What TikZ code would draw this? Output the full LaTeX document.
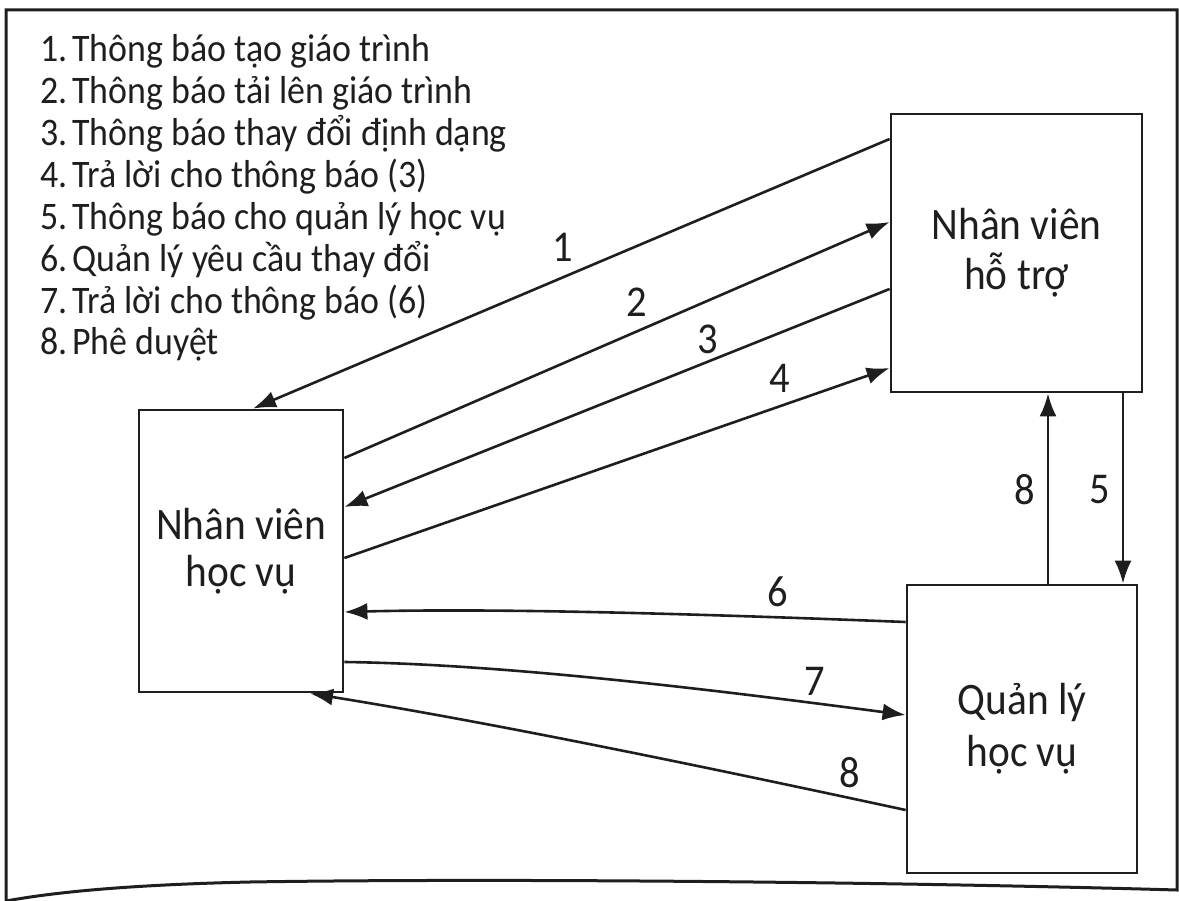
\documentclass[tikz,border=0pt]{standalone}
\usepackage{fontspec}
\setmainfont{Carlito}[FakeStretch=0.92]
\usetikzlibrary{arrows.meta,calc}
\definecolor{ink}{HTML}{1E1E1E}
\newcommand{\legitem}[2]{#1.\hspace{5pt}#2}
\begin{document}
\begin{tikzpicture}[x=1pt,y=-1pt,
  box/.style={draw=ink, line width=2.8pt, inner sep=0pt, align=center, text=ink},
  arr/.style={draw=ink, line width=2.6pt, -{Latex[length=23pt,width=17pt]}},
  lbl/.style={font=\fontsize{44}{44}\selectfont, text=ink, inner sep=0pt},
  leg/.style={font=\fontsize{39}{39}\selectfont, text=ink, anchor=base west, inner sep=0pt},
  frame/.style={draw=ink, line width=3pt}]
\useasboundingbox (0,0) rectangle (1179,901);
% frame
\draw[frame] (6,901) -- (6,10) -- (1177,10) -- (1177,890)
  .. controls (900,882) and (500,878) .. (250,882)
  .. controls (120,885) and (50,893) .. (6,901);
% legend
\node[leg] (leg1) at (40,62) {\legitem{1}{Thông báo tạo giáo trình}};
\node[leg] (leg2) at (40,103.85) {\legitem{2}{Thông báo tải lên giáo trình}};
\node[leg] (leg3) at (40,145.7) {\legitem{3}{Thông báo thay đổi định dạng}};
\node[leg] (leg4) at (40,187.55) {\legitem{4}{Trả lời cho thông báo (3)}};
\node[leg] (leg5) at (40,229.4) {\legitem{5}{Thông báo cho quản lý học vụ}};
\node[leg] (leg6) at (40,271.25) {\legitem{6}{Quản lý yêu cầu thay đổi}};
\node[leg] (leg7) at (40,313.1) {\legitem{7}{Trả lời cho thông báo (6)}};
\node[leg] (leg8) at (40,354.95) {\legitem{8}{Phê duyệt}};
% boxes
\node[box, minimum width=251pt, minimum height=278pt, font=\fontsize{45}{50}\selectfont] (nvht) at (1016.5,253) {Nhân viên\\hỗ trợ};
\node[box, minimum width=204pt, minimum height=282pt, font=\fontsize{45}{47}\selectfont] (nvhv) at (241,551) {Nhân viên\\học vụ};
\node[box, minimum width=230pt, minimum height=288pt, font=\fontsize{45}{52}\selectfont] (qlhv) at (1022,729) {Quản lý\\học vụ};
% connectors
\draw[arr] (nvht.west |- 0,139) -- (nvhv.north -| 253,0);
\draw[arr] (nvhv.east |- 0,458) -- (nvht.west |- 0,222);
\draw[arr] (nvht.west |- 0,289) -- (nvhv.east |- 0,507);
\draw[arr] (nvhv.east |- 0,558) -- (nvht.west |- 0,368);
\draw[arr] (nvht.south -| 1123,0) -- (qlhv.north -| 1123,0);
\draw[arr] (qlhv.north -| 1048,0) -- (nvht.south -| 1048,0);
\draw[arr] (qlhv.west |- 0,622) .. controls (700,614) and (500,608) .. (nvhv.east |- 0,612);
\draw[arr] (nvhv.east |- 0,662) .. controls (500,664) and (700,688) .. (qlhv.west |- 0,715);
\draw[arr] (qlhv.west |- 0,810) .. controls (720,770) and (500,724) .. (nvhv.south -| 310,0);
% labels
\node[lbl] (l1) at (563,247) {1};
\node[lbl] (l2) at (637,302) {2};
\node[lbl] (l3) at (708,339) {3};
\node[lbl] (l4) at (780,378) {4};
\node[lbl] (l6) at (778,592) {6};
\node[lbl] (l7) at (815,681) {7};
\node[lbl] (l8a) at (850,773) {8};
\node[lbl] (l8b) at (1025,490) {8};
\node[lbl] (l5) at (1100,490) {5};
\end{tikzpicture}
\end{document}
